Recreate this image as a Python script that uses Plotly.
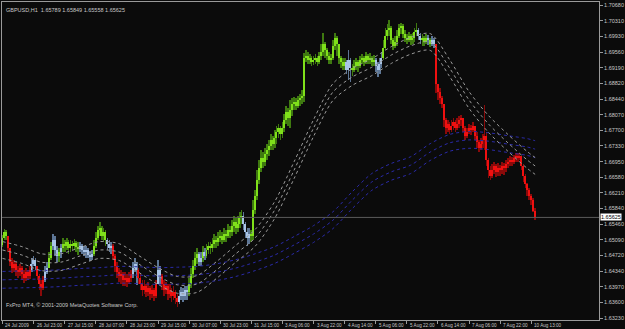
import plotly.graph_objects as go

# ---------------- data (GBPUSD H1) ----------------
open_first = 1.6497
close = [
 1.6514,1.6528,1.6518,1.6490,1.6456,1.6442,1.6452,1.6437,1.6433,1.6442,
 1.6428,1.6418,1.6433,1.6423,1.6437,1.6452,1.6461,1.6447,1.6423,1.6404,
 1.6395,1.6414,1.6433,1.6442,1.6466,1.6495,1.6509,1.6485,1.6471,1.6480,
 1.6490,1.6499,1.6495,1.6504,1.6490,1.6499,1.6495,1.6502,1.6492,1.6487,
 1.6495,1.6485,1.6480,1.6485,1.6473,1.6468,1.6476,1.6495,1.6514,1.6533,
 1.6537,1.6518,1.6528,1.6509,1.6499,1.6490,1.6495,1.6471,1.6447,1.6433,
 1.6423,1.6428,1.6414,1.6418,1.6409,1.6418,1.6428,1.6442,1.6452,1.6437,
 1.6418,1.6404,1.6390,1.6399,1.6385,1.6395,1.6380,1.6390,1.6376,1.6404,
 1.6437,1.6423,1.6404,1.6390,1.6399,1.6380,1.6390,1.6376,1.6385,1.6371,
 1.6361,1.6376,1.6385,1.6376,1.6390,1.6385,1.6404,1.6428,1.6447,1.6466,
 1.6476,1.6456,1.6466,1.6480,1.6471,1.6485,1.6495,1.6490,1.6499,1.6509,
 1.6504,1.6514,1.6518,1.6509,1.6523,1.6518,1.6533,1.6528,1.6542,1.6552,
 1.6537,1.6547,1.6561,1.6566,1.6547,1.6528,1.6514,1.6523,1.6518,1.6580,
 1.6614,1.6652,1.6680,1.6704,1.6694,1.6713,1.6723,1.6733,1.6747,1.6737,
 1.6752,1.6766,1.6775,1.6761,1.6775,1.6794,1.6813,1.6799,1.6818,1.6832,
 1.6837,1.6828,1.6842,1.6847,1.6852,1.6942,1.6947,1.6937,1.6942,1.6932,
 1.6937,1.6942,1.6932,1.6947,1.6956,1.6975,1.6961,1.6947,1.6937,1.6942,
 1.6971,1.6990,1.6975,1.6942,1.6932,1.6923,1.6932,1.6913,1.6937,1.6918,
 1.6913,1.6923,1.6932,1.6923,1.6937,1.6942,1.6932,1.6947,1.6937,1.6942,
 1.6932,1.6937,1.6923,1.6913,1.6928,1.6942,1.6966,1.6994,1.7009,1.7013,
 1.6985,1.6971,1.6980,1.6994,1.7013,1.7018,1.6999,1.6990,1.6985,1.6994,
 1.6985,1.6990,1.7004,1.7009,1.6994,1.6985,1.6990,1.6980,1.6990,1.6985,
 1.6975,1.6985,1.6975,1.6880,1.6861,1.6847,1.6832,1.6794,1.6775,1.6785,
 1.6771,1.6780,1.6790,1.6775,1.6785,1.6794,1.6799,1.6775,1.6756,1.6766,
 1.6775,1.6771,1.6780,1.6756,1.6742,1.6728,1.6737,1.6747,1.6756,1.6699,
 1.6675,1.6661,1.6675,1.6685,1.6671,1.6680,1.6675,1.6685,1.6680,1.6690,
 1.6694,1.6699,1.6694,1.6704,1.6709,1.6704,1.6709,1.6685,1.6661,1.6642,
 1.6628,1.6614,1.6604,1.65789,1.65625]
high = [
 1.6521,1.6535,1.6533,1.6518,1.6485,1.6466,1.6461,1.6456,1.6447,1.6452,
 1.6447,1.6437,1.6442,1.6437,1.6447,1.6466,1.6471,1.6466,1.6447,1.6428,
 1.6414,1.6423,1.6447,1.6456,1.6480,1.6504,1.6523,1.6518,1.6495,1.6490,
 1.6499,1.6514,1.6509,1.6514,1.6509,1.6509,1.6506,1.6511,1.6506,1.6504,
 1.6504,1.6499,1.6495,1.6495,1.6490,1.6483,1.6485,1.6509,1.6528,1.6542,
 1.6552,1.6542,1.6537,1.6533,1.6514,1.6509,1.6504,1.6499,1.6476,1.6456,
 1.6442,1.6437,1.6433,1.6433,1.6428,1.6433,1.6437,1.6456,1.6466,1.6456,
 1.6442,1.6428,1.6414,1.6414,1.6404,1.6409,1.6399,1.6402,1.6395,1.6414,
 1.6461,1.6447,1.6428,1.6414,1.6409,1.6404,1.6404,1.6395,1.6399,1.6390,
 1.6380,1.6390,1.6397,1.6395,1.6399,1.6399,1.6418,1.6442,1.6461,1.6480,
 1.6490,1.6480,1.6480,1.6495,1.6490,1.6499,1.6504,1.6504,1.6514,1.6523,
 1.6518,1.6528,1.6533,1.6528,1.6537,1.6533,1.6547,1.6542,1.6556,1.6566,
 1.6561,1.6566,1.6575,1.6580,1.6575,1.6552,1.6537,1.6537,1.6533,1.6604,
 1.6628,1.6675,1.6699,1.6723,1.6718,1.6728,1.6737,1.6747,1.6761,1.6756,
 1.6771,1.6780,1.6785,1.6780,1.6790,1.6809,1.6828,1.6823,1.6842,1.6847,
 1.6849,1.6847,1.6852,1.6856,1.6866,1.6954,1.6961,1.6956,1.6952,1.6947,
 1.6947,1.6952,1.6947,1.6956,1.6975,1.7002,1.6980,1.6966,1.6956,1.6952,
 1.6985,1.7002,1.6994,1.6975,1.6947,1.6942,1.6942,1.6937,1.6961,1.6942,
 1.6928,1.6937,1.6942,1.6937,1.6947,1.6952,1.6947,1.6956,1.6952,1.6954,
 1.6947,1.6949,1.6942,1.6932,1.6942,1.6956,1.6985,1.7013,1.7023,1.7032,
 1.7018,1.6990,1.6994,1.7009,1.7023,1.7025,1.7023,1.7009,1.6999,1.7004,
 1.6999,1.7002,1.7013,1.7025,1.7013,1.7002,1.6999,1.6994,1.6999,1.6997,
 1.6990,1.6994,1.6990,1.6975,1.6880,1.6871,1.6852,1.6832,1.6799,1.6794,
 1.6790,1.6794,1.6799,1.6794,1.6799,1.6804,1.6806,1.6799,1.6780,1.6775,
 1.6785,1.6783,1.6790,1.6780,1.6766,1.6747,1.6752,1.6761,1.6830,1.6766,
 1.6704,1.6685,1.6690,1.6694,1.6690,1.6692,1.6687,1.6694,1.6692,1.6699,
 1.6704,1.6709,1.6706,1.6711,1.6716,1.6716,1.6716,1.6709,1.6690,1.6666,
 1.6645,1.6633,1.6618,1.6609,1.65849]
low = [
 1.6492,1.6509,1.6509,1.6480,1.6447,1.6430,1.6433,1.6423,1.6418,1.6423,
 1.6414,1.6407,1.6411,1.6414,1.6416,1.6433,1.6447,1.6437,1.6414,1.6390,
 1.6376,1.6390,1.6409,1.6428,1.6442,1.6461,1.6485,1.6471,1.6456,1.6456,
 1.6466,1.6480,1.6480,1.6485,1.6476,1.6480,1.6485,1.6485,1.6480,1.6473,
 1.6480,1.6476,1.6471,1.6466,1.6466,1.6459,1.6461,1.6471,1.6490,1.6509,
 1.6518,1.6509,1.6504,1.6495,1.6485,1.6480,1.6476,1.6461,1.6433,1.6418,
 1.6409,1.6404,1.6399,1.6399,1.6397,1.6404,1.6409,1.6418,1.6433,1.6402,
 1.6404,1.6390,1.6376,1.6380,1.6373,1.6376,1.6366,1.6371,1.6364,1.6371,
 1.6404,1.6404,1.6390,1.6376,1.6380,1.6366,1.6371,1.6361,1.6366,1.6357,
 1.6349,1.6357,1.6366,1.6361,1.6366,1.6366,1.6376,1.6395,1.6418,1.6437,
 1.6452,1.6447,1.6447,1.6456,1.6461,1.6466,1.6476,1.6476,1.6480,1.6490,
 1.6490,1.6495,1.6504,1.6499,1.6504,1.6504,1.6514,1.6514,1.6518,1.6528,
 1.6523,1.6528,1.6537,1.6547,1.6533,1.6514,1.6495,1.6499,1.6504,1.6509,
 1.6571,1.6604,1.6642,1.6671,1.6680,1.6685,1.6699,1.6709,1.6723,1.6723,
 1.6728,1.6737,1.6752,1.6747,1.6752,1.6766,1.6785,1.6780,1.6775,1.6804,
 1.6818,1.6818,1.6823,1.6828,1.6832,1.6837,1.6932,1.6928,1.6928,1.6923,
 1.6925,1.6928,1.6923,1.6928,1.6937,1.6947,1.6942,1.6937,1.6928,1.6928,
 1.6937,1.6961,1.6947,1.6928,1.6918,1.6913,1.6913,1.6904,1.6890,1.6885,
 1.6899,1.6909,1.6913,1.6909,1.6918,1.6928,1.6923,1.6928,1.6928,1.6928,
 1.6923,1.6923,1.6909,1.6897,1.6904,1.6918,1.6937,1.6961,1.6985,1.6994,
 1.6975,1.6961,1.6966,1.6971,1.6990,1.6999,1.6990,1.6980,1.6975,1.6980,
 1.6973,1.6975,1.6980,1.6994,1.6985,1.6975,1.6971,1.6971,1.6975,1.6973,
 1.6968,1.6971,1.6966,1.6859,1.6842,1.6832,1.6823,1.6778,1.6761,1.6766,
 1.6761,1.6766,1.6771,1.6766,1.6771,1.6775,1.6780,1.6766,1.6747,1.6752,
 1.6761,1.6759,1.6766,1.6747,1.6728,1.6718,1.6723,1.6728,1.6723,1.6685,
 1.6656,1.6652,1.6656,1.6666,1.6659,1.6661,1.6661,1.6666,1.6664,1.6671,
 1.6680,1.6685,1.6685,1.6690,1.6694,1.6694,1.6699,1.6675,1.6647,1.6633,
 1.6614,1.6604,1.6592,1.6575,1.65558]
# bar colour state (g = up-trend, b = pause, r = down-trend), as runs
trend_runs = [("g",3),("r",12),("b",3),("r",4),("b",2),("g",2),("b",3),("g",1),
              ("b",1),("g",9),("b",7),("g",7),("b",3),("r",10),("b",3),("r",10),
              ("b",2),("r",9),("b",5),("g",5),("b",2),("g",1),("b",1),("g",19),
              ("b",4),("g",49),("b",3),("g",12),("b",4),("g",18),("b",2),("g",3),
              ("b",1),("g",1),("b",2),("r",52)]

# moving-average channels (centre values read at these bars)
ma_bars = [0,10,20,30,40,50,60,70,80,90,100,110,120,130,140,150,160,170,180,
           190,200,210,220,230,240,250,260,270,274]
fast_ma = [1.6485,1.6473,1.6456,1.6456,1.6471,1.6485,1.6480,1.6452,1.6423,1.6402,
           1.6404,1.6437,1.6476,1.6514,1.6580,1.6675,1.6775,1.6861,1.6897,1.6920,
           1.6949,1.6971,1.6980,1.6918,1.6842,1.6785,1.6740,1.6699,1.6685]
slow_ma = [1.6414,1.6415,1.6416,1.6418,1.6421,1.6423,1.6426,1.6425,1.6423,1.6424,
           1.6426,1.6432,1.6442,1.6456,1.6473,1.6497,1.6523,1.6556,1.6604,1.6647,
           1.6671,1.6687,1.6718,1.6740,1.6747,1.6744,1.6737,1.6730,1.6725]
fast_band = 0.0020
slow_band = 0.0020

last_price = 1.65625
title_text = "GBPUSD,H1  1.65789 1.65849 1.65558 1.65625"
footer_text = "FxPro MT4, \u00a9 2001-2009 MetaQuotes Software Corp."
price_ticks = [1.70680,1.70310,1.69930,1.69560,1.69190,1.68820,1.68440,1.68070,
               1.67700,1.67330,1.66950,1.66580,1.66210,1.65840,1.65460,1.65090,
               1.64720,1.64340,1.63970,1.63600,1.63230]
date_tick_bars = [0,16,32,48,64,80,96,112,128,144,160,176,192,208,224,240,256,272]
date_labels = ["24 Jul 2009","26 Jul 23:00","27 Jul 15:00","28 Jul 07:00","28 Jul 23:00",
               "29 Jul 15:00","30 Jul 07:00","30 Jul 23:00","31 Jul 15:00","3 Aug 06:00",
               "3 Aug 22:00","4 Aug 14:00","5 Aug 06:00","5 Aug 22:00","6 Aug 14:00",
               "7 Aug 06:00","7 Aug 22:00","10 Aug 13:00"]

# ---------------- build ----------------
trend = []
for c, n in trend_runs:
    trend += [c] * n
n = len(close)
trend = (trend + ["r"] * n)[:n]
opens = [open_first] + close[:-1]

BG = "#0b0b0b"
FG = "#c8c8c8"
FONT = "Liberation Sans"
colors = {"g": ("#7fe01a", "#3f7a10"),
          "b": ("#a9c4e6", "#5d7696"),
          "r": ("#f01010", "#8a0a0a")}

fig = go.Figure()

# moving-average channels
for mids, col in ((slow_ma, "#2a2aa8"), (fast_ma, "#9a9a9a")):
    band = slow_band if mids is slow_ma else fast_band
    for off in (-band, 0.0, band):
        fig.add_trace(go.Scatter(x=ma_bars, y=[m + off for m in mids], mode="lines",
                                 line=dict(color=col, width=1, dash="dot", shape="spline",
                                           smoothing=0.8),
                                 hoverinfo="skip", showlegend=False))

# candles, grouped by colour state
for key, (bright, dark) in colors.items():
    idx = [i for i in range(n) if trend[i] == key]
    fig.add_trace(go.Bar(x=idx, base=[low[i] for i in idx],
                         y=[high[i] - low[i] for i in idx], width=0.4,
                         marker=dict(color=dark, line=dict(width=0)),
                         hoverinfo="skip", showlegend=False))
    fig.add_trace(go.Bar(x=idx, base=[min(opens[i], close[i]) for i in idx],
                         y=[max(abs(close[i] - opens[i]), 0.00008) for i in idx], width=0.7,
                         marker=dict(color=bright, line=dict(width=0)),
                         hoverinfo="skip", showlegend=False))

# current price line
fig.add_hline(y=last_price, line=dict(color="#5a5a5a", width=1))

annotations = [
    dict(text=title_text, x=0.004, y=0.992, xref="paper", yref="paper", xanchor="left",
         yanchor="top", showarrow=False, font=dict(family=FONT, size=5.5, color=FG)),
    dict(text=footer_text, x=0.004, y=0.03, xref="paper", yref="paper", xanchor="left",
         yanchor="bottom", showarrow=False, font=dict(family=FONT, size=5.5, color=FG)),
    dict(text=f"{last_price:.5f}", x=1, y=last_price, xref="paper", yref="y",
         xanchor="left", yanchor="middle", xshift=1, showarrow=False, bgcolor="#ffffff",
         borderpad=0, font=dict(family=FONT, size=5.5, color="#000000")),
]
for b, lab in zip(date_tick_bars, date_labels):
    annotations.append(dict(text=lab, x=b, y=0, xref="x", yref="paper", xanchor="left",
                            yanchor="top", xshift=1, yshift=-1, showarrow=False,
                            font=dict(family=FONT, size=4.6, color=FG)))

fig.update_layout(
    width=625, height=329,
    margin=dict(l=1, r=19, t=2, b=9),
    paper_bgcolor=BG, plot_bgcolor=BG,
    barmode="overlay", bargap=0, showlegend=False,
    hovermode=False,
    annotations=annotations,
    xaxis=dict(range=[-0.25, 306.85], showgrid=False, zeroline=False,
               tickvals=date_tick_bars, showticklabels=False,
               ticks="outside", ticklen=3, tickcolor="#9a9a9a",
               showline=True, linecolor="#9a9a9a", linewidth=1, mirror=True),
    yaxis=dict(range=[1.63184, 1.70752], side="right", showgrid=False, zeroline=False,
               tickvals=price_ticks, ticktext=[f"{v:.5f}" for v in price_ticks],
               ticks="outside", ticklen=3, tickcolor="#9a9a9a",
               tickfont=dict(family=FONT, size=5.5, color=FG),
               showline=True, linecolor="#9a9a9a", linewidth=1, mirror=True),
)

fig.write_html("out.html")
